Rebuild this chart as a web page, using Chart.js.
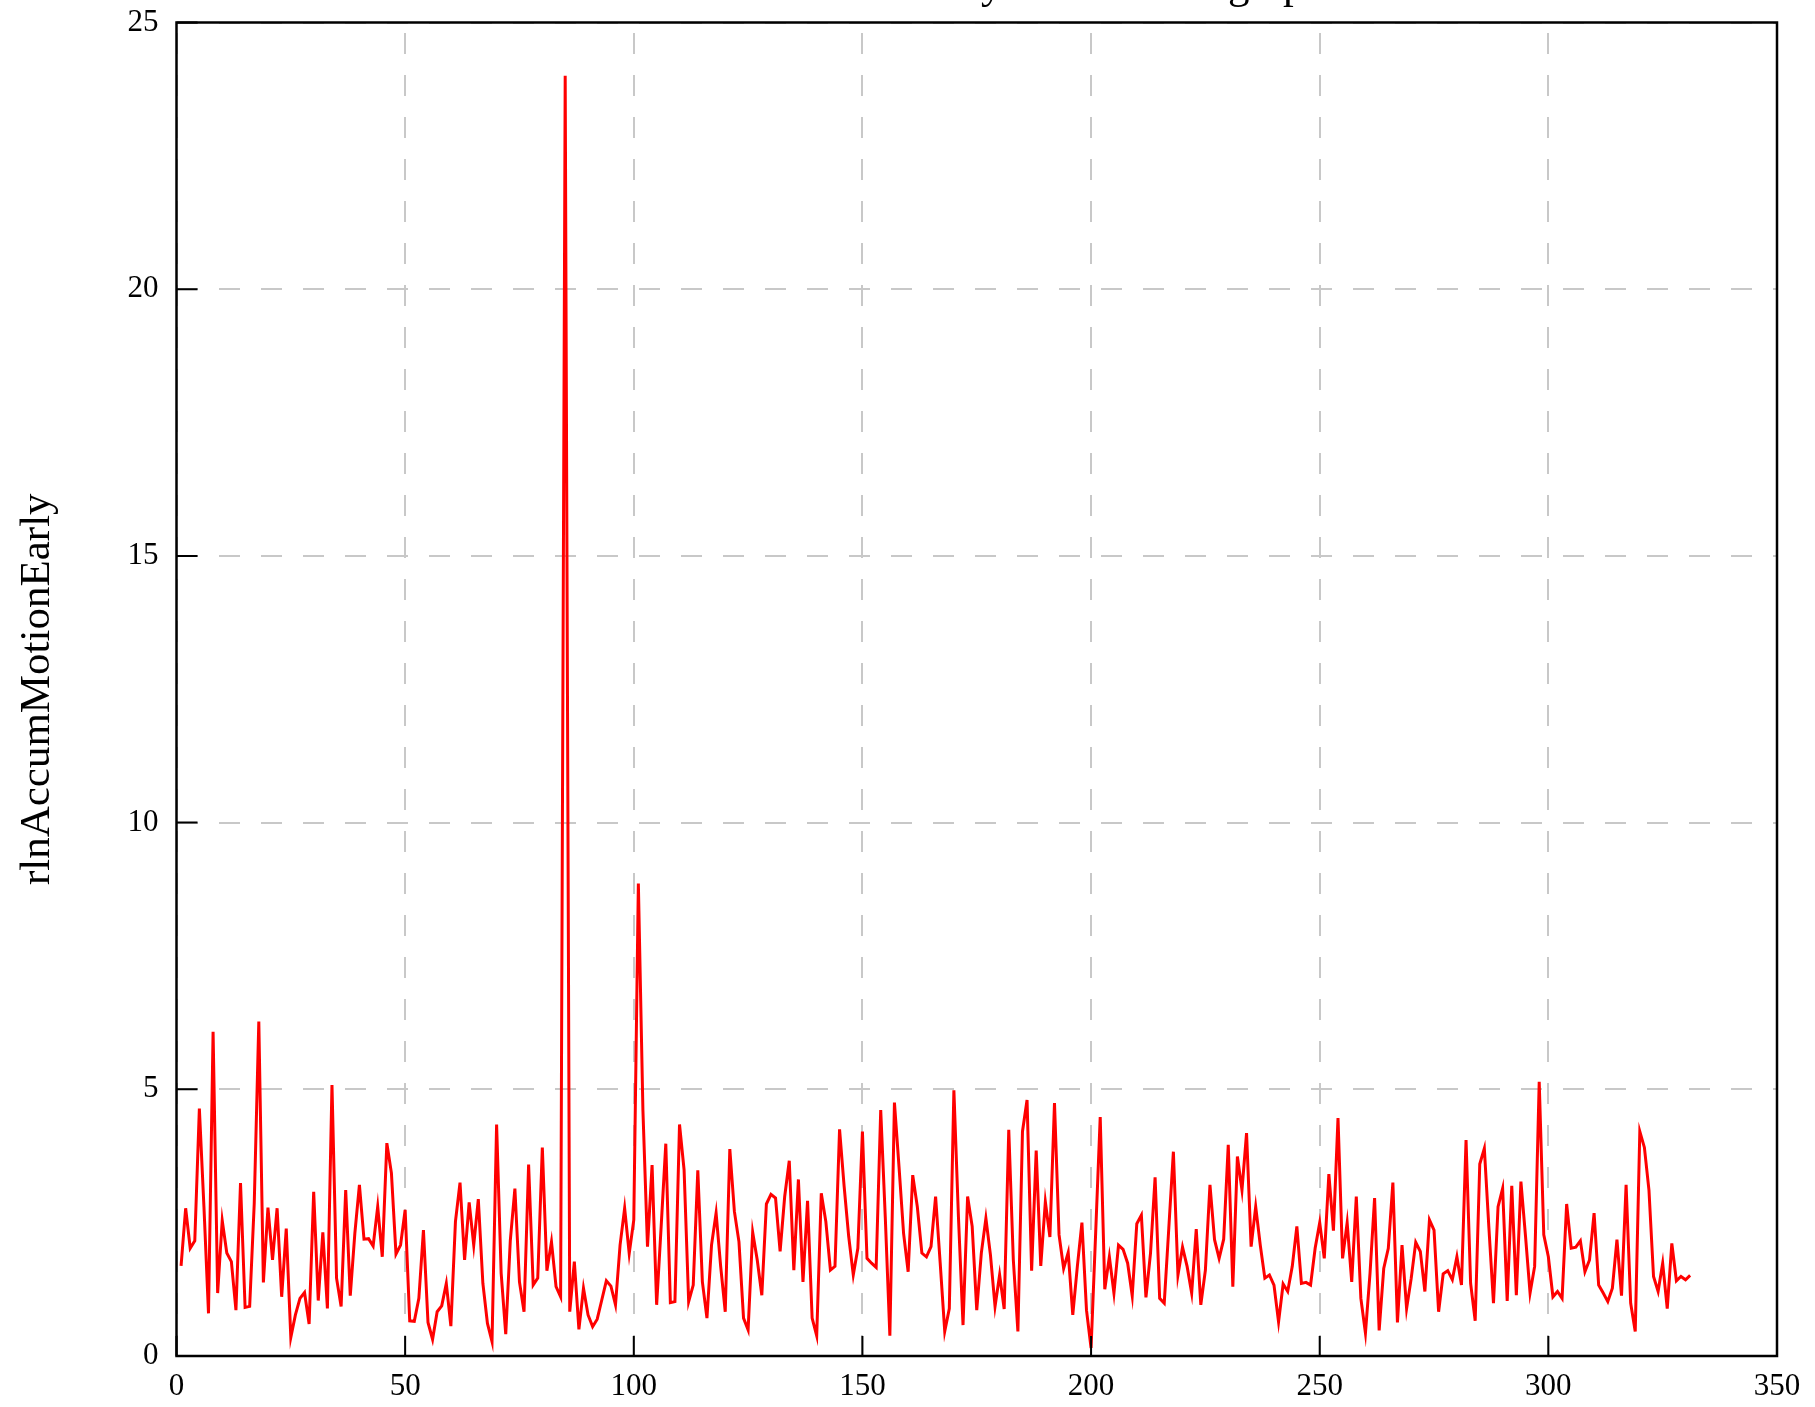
<!DOCTYPE html>
<html>
<head>
<meta charset="utf-8">
<title>rlnAccumMotionEarly</title>
<script src="https://cdn.jsdelivr.net/npm/chart.js@4.4.1/dist/chart.umd.min.js"></script>
<style>
  html, body { margin: 0; padding: 0; background: #fff; }
  #wrap { width: 1815px; height: 1407px; }
</style>
</head>
<body>
<div id="wrap"><canvas id="earlyChart" width="1815" height="1407"></canvas></div>
<script>
"use strict";
// values, one per micrograph (first micrograph is 1)
const firstMicrograph = 1;
const earlyMotion001 = [
  1.69, 2.77, 2.02, 2.16, 4.64, 2.8, 0.8, 6.08, 1.18, 2.54,
  1.93, 1.77, 0.86, 3.24, 0.91, 0.93, 2.86, 6.27, 1.38, 2.78,
  1.8, 2.77, 1.11, 2.39, 0.35, 0.77, 1.08, 1.19, 0.6, 3.08,
  1.04, 2.32, 0.89, 5.08, 1.46, 0.93, 3.11, 1.13, 2.3, 3.21,
  2.19, 2.2, 2.06, 2.8, 1.86, 3.99, 3.43, 1.91, 2.08, 2.74
];
const earlyMotion051 = [
  0.66, 0.65, 1.08, 2.36, 0.63, 0.31, 0.83, 0.94, 1.36, 0.56,
  2.52, 3.25, 1.8, 2.88, 2.08, 2.94, 1.36, 0.61, 0.27, 4.34,
  1.55, 0.41, 2.17, 3.14, 1.39, 0.83, 3.59, 1.33, 1.46, 3.91,
  1.6, 2.14, 1.3, 1.11, 24.0, 0.83, 1.77, 0.5, 1.27, 0.77,
  0.55, 0.69, 1.05, 1.41, 1.31, 0.96, 2.08, 2.77, 1.92, 2.55
];
const earlyMotion101 = [
  8.86, 4.6, 2.05, 3.58, 0.96, 2.45, 3.98, 1.0, 1.02, 4.34,
  3.49, 1.02, 1.33, 3.48, 1.39, 0.71, 2.08, 2.68, 1.68, 0.83,
  3.88, 2.71, 2.14, 0.71, 0.49, 2.32, 1.8, 1.14, 2.85, 3.03,
  2.96, 1.96, 2.99, 3.66, 1.61, 3.31, 1.39, 2.91, 0.71, 0.38,
  3.05, 2.52, 1.61, 1.68, 4.25, 3.18, 2.24, 1.52, 2.02, 4.21
];
const earlyMotion151 = [
  1.83, 1.74, 1.66, 4.61, 2.6, 0.38, 4.75, 3.55, 2.3, 1.58,
  3.39, 2.8, 1.93, 1.86, 2.05, 2.99, 1.75, 0.46, 0.89, 4.98,
  2.6, 0.58, 2.99, 2.43, 0.86, 1.93, 2.58, 1.89, 0.93, 1.52,
  0.88, 4.24, 1.8, 0.46, 4.21, 4.8, 1.6, 3.85, 1.69, 2.89,
  2.23, 4.74, 2.27, 1.64, 1.94, 0.77, 1.68, 2.5, 0.86, 0.15
];
const earlyMotion201 = [
  2.3, 4.48, 1.25, 1.86, 1.18, 2.08, 2.0, 1.74, 1.13, 2.48,
  2.64, 1.1, 1.93, 3.35, 1.08, 0.99, 2.4, 3.83, 1.52, 2.04,
  1.68, 1.18, 2.38, 0.96, 1.61, 3.21, 2.18, 1.83, 2.19, 3.96,
  1.3, 3.74, 3.11, 4.18, 2.05, 2.8, 2.08, 1.46, 1.52, 1.33,
  0.64, 1.35, 1.21, 1.68, 2.43, 1.36, 1.38, 1.33, 2.02, 2.5
];
const earlyMotion251 = [
  1.83, 3.41, 2.35, 4.46, 1.83, 2.5, 1.39, 2.99, 1.08, 0.43,
  1.55, 2.96, 0.48, 1.64, 2.02, 3.25, 0.63, 2.08, 0.89, 1.45,
  2.13, 1.96, 1.21, 2.55, 2.36, 0.83, 1.54, 1.6, 1.43, 1.86,
  1.33, 4.05, 1.36, 0.66, 3.6, 3.89, 2.4, 0.99, 2.8, 3.14,
  1.03, 3.19, 1.14, 3.27, 2.25, 1.18, 1.68, 5.14, 2.27, 1.86
];
const earlyMotion301 = [
  1.11, 1.21, 1.08, 2.85, 2.02, 2.04, 2.16, 1.58, 1.8, 2.68,
  1.33, 1.18, 1.02, 1.27, 2.18, 1.13, 3.21, 0.99, 0.46, 4.21,
  3.91, 3.11, 1.49, 1.21, 1.74, 0.89, 2.11, 1.41, 1.49, 1.43,
  1.51
];
const xTicks = [0, 50, 100, 150, 200, 250, 300, 350];
const yTicks = [0, 5, 10, 15, 20, 25];
const chartTitle = "rlnAccumMotionEarly for all micrographs";
const yAxisTitle = "rlnAccumMotionEarly";

const serif = "'Liberation Serif', 'Times New Roman', serif";
const earlyMotion = [].concat(earlyMotion001, earlyMotion051, earlyMotion101,
  earlyMotion151, earlyMotion201, earlyMotion251, earlyMotion301);
const points = earlyMotion.map((value, i) => ({ x: firstMicrograph + i, y: value }));

// box round the plot, inward tick marks and the title (only its descenders reach the page)
const framePlugin = {
  id: "frame",
  afterDraw(chart) {
    const { ctx, chartArea: area, scales } = chart;
    ctx.save();
    ctx.strokeStyle = "#000";
    ctx.lineWidth = 2.5;
    ctx.strokeRect(area.left, area.top, area.right - area.left, area.bottom - area.top);
    ctx.lineWidth = 2;
    ctx.beginPath();
    xTicks.forEach((v) => {
      const px = scales.x.getPixelForValue(v);
      ctx.moveTo(px, area.bottom);
      ctx.lineTo(px, area.bottom - 20);
    });
    yTicks.forEach((v) => {
      const py = scales.y.getPixelForValue(v);
      ctx.moveTo(area.left, py);
      ctx.lineTo(area.left + 21, py);
    });
    ctx.stroke();
    ctx.fillStyle = "#000";
    ctx.font = "43px " + serif;
    ctx.textAlign = "center";
    ctx.textBaseline = "alphabetic";
    ctx.fillText(chartTitle, (area.left + area.right) / 2, -2);
    ctx.restore();
  }
};

new Chart(document.getElementById("earlyChart"), {
  type: "line",
  data: {
    datasets: [{
      label: yAxisTitle,
      data: points,
      borderColor: "#ff0000",
      borderWidth: 3,
      pointRadius: 0,
      tension: 0,
      fill: false
    }]
  },
  options: {
    responsive: false,
    animation: false,
    layout: { padding: { top: 22.5, right: 38, left: 0, bottom: 0 } },
    plugins: {
      legend: { display: false },
      tooltip: { enabled: false }
    },
    scales: {
      x: {
        type: "linear",
        min: 0,
        max: 350,
        afterFit: (scale) => {
          scale.height = 51;
          scale.paddingLeft = 0;
          scale.paddingRight = 0;
        },
        grid: { color: "#c8c8c8", lineWidth: 2, drawTicks: false },
        border: { display: false, dash: [21, 21], dashOffset: 31.5 },
        ticks: { stepSize: 50, color: "#000", padding: 12, maxRotation: 0, font: { family: serif, size: 31 } }
      },
      y: {
        min: 0,
        max: 25,
        afterFit: (scale) => {
          scale.width = 176.5;
          scale.paddingTop = 0;
          scale.paddingBottom = 0;
        },
        grid: { color: "#c8c8c8", lineWidth: 2, drawTicks: false },
        border: { display: false, dash: [21, 21] },
        ticks: { stepSize: 5, color: "#000", padding: 18, font: { family: serif, size: 31 } },
        title: {
          display: true,
          text: yAxisTitle,
          color: "#000",
          padding: { top: 12, bottom: 0 },
          font: { family: serif, size: 43 }
        }
      }
    }
  },
  plugins: [framePlugin]
});
</script>
</body>
</html>
